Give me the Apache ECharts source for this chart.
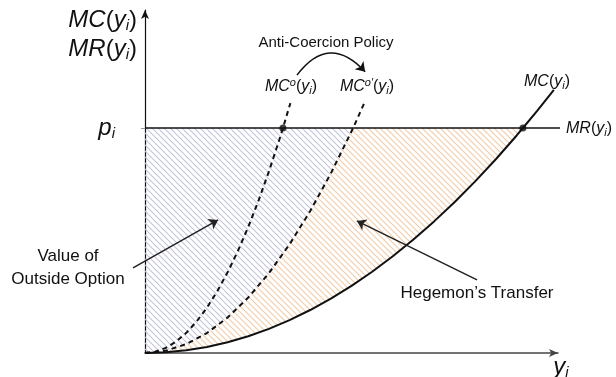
<!DOCTYPE html>
<html>
<head>
<meta charset="utf-8">
<script src="https://cdn.jsdelivr.net/npm/echarts@6/dist/echarts.min.js"></script>
<style>
  html, body { margin: 0; background: #fff; }
  #chart { width: 616px; height: 377px; }
</style>
</head>
<body>
<div id="chart"></div>
<script>
// price level p_i (horizontal MR line)
const priceLevel = 6.56;

// solid MC(y_i)
const mcX = [0, 0.5, 1, 1.5, 2, 2.5, 3, 3.5, 4, 4.5, 5, 5.5, 6, 6.5, 7, 7.5, 8, 8.5, 9, 9.15, 9.5, 9.9];
const mcY = [0, 0.02, 0.078, 0.176, 0.313, 0.489, 0.705, 0.959, 1.253, 1.586, 1.958, 2.369, 2.819, 3.308, 3.837, 4.404, 5.011, 5.657, 6.342, 6.56, 7.067, 7.674];

// dashed MC^o(y_i)
const mcoX = [0, 0.25, 0.5, 0.75, 1, 1.25, 1.5, 1.75, 2, 2.25, 2.5, 2.75, 3, 3.25, 3.34, 3.52];
const mcoY = [0, 0.037, 0.147, 0.331, 0.588, 0.919, 1.323, 1.801, 2.352, 2.977, 3.675, 4.447, 5.292, 6.211, 6.56, 7.286];

// dashed MC^o'(y_i)
const mcpX = [0, 0.5, 1, 1.5, 2, 2.5, 3, 3.5, 4, 4.5, 5.04, 5.3];
const mcpY = [0, 0.065, 0.259, 0.582, 1.034, 1.616, 2.327, 3.168, 4.138, 5.237, 6.56, 7.264];

// intersections marked with dots
const dotX = [3.34, 9.15];

// annotation arrows [from, to]
const policyArrow = [[3.68, 8.1], [5.33, 8.2]];
const outsideArrow = [[-0.29, 2.48], [1.77, 3.88]];
const transferArrow = [[8.04, 2.13], [5.13, 3.85]];

const zip = (xs, ys) => xs.map((x, i) => [x, ys[i]]);

function hatch(color) {
  const c = document.createElement('canvas');
  c.width = 6; c.height = 6;
  const g = c.getContext('2d');
  g.strokeStyle = color;
  g.lineWidth = 1.1;
  g.beginPath();
  g.moveTo(-1, -1); g.lineTo(7, 7);
  g.moveTo(-1, 5); g.lineTo(1, 7);
  g.moveTo(5, -1); g.lineTo(7, 1);
  g.stroke();
  return { image: c, repeat: 'repeat' };
}

const FONT = 'Liberation Sans';
function rich(size, subSize) {
  return {
    it: { fontFamily: FONT, fontStyle: 'italic', fontSize: size, fill: '#111', color: '#111' },
    n: { fontFamily: FONT, fontSize: size, fill: '#111', color: '#111' },
    sub: { fontFamily: FONT, fontStyle: 'italic', fontSize: subSize, padding: [Math.round(size * 0.45), 0, 0, 0], fill: '#111', color: '#111' },
    sup: { fontFamily: FONT, fontStyle: 'italic', fontSize: subSize, padding: [0, 0, Math.round(size * 0.5), 0], fill: '#111', color: '#111' }
  };
}

const chart = echarts.init(document.getElementById('chart'), null, { renderer: 'canvas' });

const grayFill = hatch('#c4c4dc');
const orangeFill = hatch('#f1cba8');

function text(x, y, str, size, subSize, align) {
  return {
    type: 'text', x: x, y: y, z: 50,
    style: {
      text: str, rich: rich(size, subSize || Math.round(size * 0.65)),
      align: align || 'center', verticalAlign: 'middle',
      fontFamily: FONT, fontSize: size, fill: '#111'
    }
  };
}

const option = {
  animation: false,
  grid: { left: 145, right: 58, top: 10, bottom: 24 },
  xAxis: {
    type: 'value', min: 0, max: 10,
    splitLine: { show: false },
    axisTick: { show: false },
    axisLabel: { show: false },
    axisLine: { show: true, symbol: ['none', 'arrow'], symbolSize: [6, 9], lineStyle: { color: '#444', width: 1.5 } }
  },
  yAxis: {
    type: 'value', min: 0, max: 10,
    splitLine: { show: false },
    axisTick: { show: true, customValues: [priceLevel], length: 4, lineStyle: { color: '#999' } },
    axisLabel: {
      show: true, customValues: [priceLevel], margin: 30,
      formatter: () => '{it|p}{sub|i}',
      rich: rich(24, 15)
    },
    axisLine: { show: true, symbol: ['none', 'arrow'], symbolSize: [6, 9], lineStyle: { color: '#111', width: 1.2 } }
  },
  series: [
    {
      type: 'custom', z: 1, silent: true,
      data: [[0, 0]],
      renderItem: (params, api) => {
        const p = priceLevel;
        const curve = zip(mcpX, mcpY).filter(d => d[1] <= p);
        const pts = [[0, p]].concat(curve.slice().reverse());
        return {
          type: 'polygon',
          shape: { points: pts.map(d => api.coord(d)) },
          style: { fill: grayFill, stroke: null }
        };
      }
    },
    {
      type: 'custom', z: 1, silent: true,
      data: [[0, 0]],
      renderItem: (params, api) => {
        const p = priceLevel;
        const outer = zip(mcX, mcY).filter(d => d[1] <= p).reverse();
        const inner = zip(mcpX, mcpY).filter(d => d[1] <= p);
        const pts = outer.concat(inner);
        return {
          type: 'polygon',
          shape: { points: pts.map(d => api.coord(d)) },
          style: { fill: orangeFill, stroke: null }
        };
      }
    },
    {
      type: 'line', z: 3, symbol: 'none', clip: false,
      data: [[0, priceLevel], [10.05, priceLevel]],
      lineStyle: { color: '#111', width: 1.5 }
    },
    {
      type: 'line', z: 4, symbol: 'none',
      data: zip(mcX, mcY),
      lineStyle: { color: '#111', width: 2 }
    },
    {
      type: 'line', z: 4, symbol: 'none',
      data: zip(mcoX, mcoY),
      lineStyle: { color: '#111', width: 2, type: [5, 4] }
    },
    {
      type: 'line', z: 4, symbol: 'none',
      data: zip(mcpX, mcpY),
      lineStyle: { color: '#111', width: 2, type: [5, 4] }
    },
    {
      type: 'scatter', z: 5, symbolSize: 7,
      data: dotX.map(x => [x, priceLevel]),
      itemStyle: { color: '#111' }
    },
    {
      type: 'lines', coordinateSystem: 'cartesian2d', z: 6, clip: false,
      symbol: ['none', 'arrow'], symbolSize: 9,
      data: [{ coords: policyArrow, lineStyle: { curveness: 0.6 } }],
      lineStyle: { color: '#111', width: 1.5, opacity: 1 }
    },
    {
      type: 'lines', coordinateSystem: 'cartesian2d', z: 6, clip: false,
      symbol: ['none', 'arrow'], symbolSize: 9,
      data: [{ coords: outsideArrow }, { coords: transferArrow }],
      lineStyle: { color: '#222', width: 1.5, opacity: 1, curveness: 0 }
    }
  ],
  graphic: [
    text(137, 20, '{it|MC}{n|(}{it|y}{sub|i}{n|)}', 24, 15, 'right'),
    text(137, 49, '{it|MR}{n|(}{it|y}{sub|i}{n|)}', 24, 15, 'right'),
    text(561, 367, '{it|y}{sub|i}', 24, 15),
    text(326, 43, 'Anti-Coercion Policy', 15),
    text(291, 87, '{it|MC}{sup|o}{n|(}{it|y}{sub|i}{n|)}', 16, 11),
    text(367, 87, '{it|MC}{sup|o\u2032}{n|(}{it|y}{sub|i}{n|)}', 16, 11),
    text(547, 82, '{it|MC}{n|(}{it|y}{sub|i}{n|)}', 16, 11),
    text(566, 129, '{it|MR}{n|(}{it|y}{sub|i}{n|)}', 16, 11, 'left'),
    text(68, 256, 'Value of', 17),
    text(68, 279, 'Outside Option', 17),
    text(477, 293, 'Hegemon\u2019s Transfer', 17)
  ]
};

chart.setOption(option);
</script>
</body>
</html>
